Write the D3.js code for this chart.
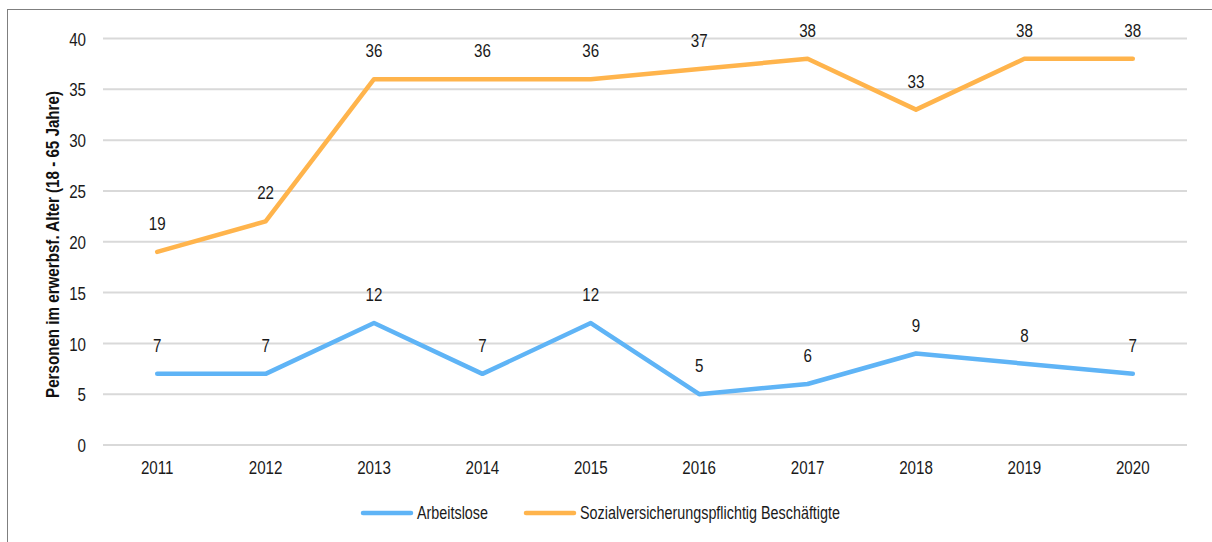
<!DOCTYPE html>
<html>
<head>
<meta charset="utf-8">
<script src="https://cdn.jsdelivr.net/npm/d3@7"></script>
<style>
  html, body { margin: 0; padding: 0; background: #fff; }
  svg { display: block; font-family: "Liberation Sans", Arial, sans-serif; }
</style>
</head>
<body>
<svg id="chart" width="1212" height="542"></svg>
<script>
const years = ["2011","2012","2013","2014","2015","2016","2017","2018","2019","2020"];
const arbeitslose = [7, 7, 12, 7, 12, 5, 6, 9, 8, 7];
const beschaeftigte = [19, 22, 36, 36, 36, 37, 38, 33, 38, 38];
const yTicks = [0, 5, 10, 15, 20, 25, 30, 35, 40];
const seriesNames = ["Arbeitslose", "Sozialversicherungspflichtig Beschäftigte"];
const seriesColors = ["#5fb4f6", "#ffb44c"];

// condensed look: regular sans squeezed horizontally
const NARROW = 0.82;
function narrow(sel) {
  sel.each(function () {
    const t = d3.select(this);
    const tx = +t.attr("x") || 0, ty = +t.attr("y") || 0;
    t.attr("x", 0).attr("y", 0)
     .attr("transform", `translate(${tx},${ty}) scale(${NARROW},1)`);
  });
}

const svg = d3.select("#chart");

// outer frame
svg.append("rect")
  .attr("x", 7.5).attr("y", 9.5)
  .attr("width", 1230).attr("height", 560)
  .attr("fill", "none").attr("stroke", "#7f7f7f").attr("stroke-width", 1);

const x = d3.scaleBand().domain(years).range([103, 1187]);
const y = d3.scaleLinear().domain([0, 40]).range([445, 38.5]);

// gridlines
svg.append("g").selectAll("line").data(yTicks).join("line")
  .attr("x1", 103).attr("x2", 1187)
  .attr("y1", d => y(d)).attr("y2", d => y(d))
  .attr("stroke", "#d9d9d9").attr("stroke-width", 2);

// y axis labels
const yAxis = svg.append("g").attr("transform", "translate(86,0)")
  .call(d3.axisLeft(y).tickValues(yTicks).tickSize(0).tickPadding(0));
yAxis.select(".domain").remove();
yAxis.selectAll("text").attr("font-size", 18.5).attr("fill", "#1a1a1a")
  .attr("dy", "0.36em").attr("font-family", null)
  .call(narrow);

// x axis labels
const xAxis = svg.append("g").attr("transform", "translate(0,474)")
  .call(d3.axisBottom(x).tickSize(0).tickPadding(0));
xAxis.select(".domain").remove();
xAxis.selectAll("text").attr("font-size", 18.5).attr("fill", "#1a1a1a")
  .attr("y", 0).attr("dy", 0).attr("font-family", null)
  .call(narrow);

// y axis title
svg.append("text")
  .attr("transform", `translate(58.5,244.5) rotate(-90) scale(${NARROW},1)`)
  .attr("text-anchor", "middle")
  .attr("font-size", 18.5).attr("font-weight", "bold").attr("fill", "#111")
  .text("Personen im erwerbsf. Alter (18 - 65 Jahre)");

const cx = d => x(d) + x.bandwidth() / 2;
const line = d3.line().x(d => cx(d.year)).y(d => y(d.value));

const series = [arbeitslose, beschaeftigte].map((vals, i) => ({
  name: seriesNames[i],
  color: seriesColors[i],
  points: years.map((yr, j) => ({ year: yr, value: vals[j] }))
}));

series.forEach(s => {
  svg.append("path")
    .datum(s.points)
    .attr("d", line)
    .attr("fill", "none")
    .attr("stroke", s.color)
    .attr("stroke-width", 4.5)
    .attr("stroke-linejoin", "round")
    .attr("stroke-linecap", "round");

  svg.append("g").selectAll("text").data(s.points).join("text")
    .attr("x", d => cx(d.year))
    .attr("y", d => y(d.value) - 22)
    .attr("text-anchor", "middle")
    .attr("font-size", 18.5).attr("fill", "#1a1a1a")
    .text(d => d.value)
    .call(narrow);
});

// legend
const legendItems = [
  { x: 363, tx: 417 },
  { x: 526, tx: 580 }
];
series.forEach((s, i) => {
  const g = svg.append("g");
  g.append("line")
    .attr("x1", legendItems[i].x).attr("x2", legendItems[i].x + 48)
    .attr("y1", 513).attr("y2", 513)
    .attr("stroke", s.color).attr("stroke-width", 4.5)
    .attr("stroke-linecap", "round");
  g.append("text")
    .attr("x", legendItems[i].tx).attr("y", 519)
    .attr("font-size", 17.5).attr("fill", "#1a1a1a")
    .text(s.name)
    .call(narrow);
});
</script>
</body>
</html>
